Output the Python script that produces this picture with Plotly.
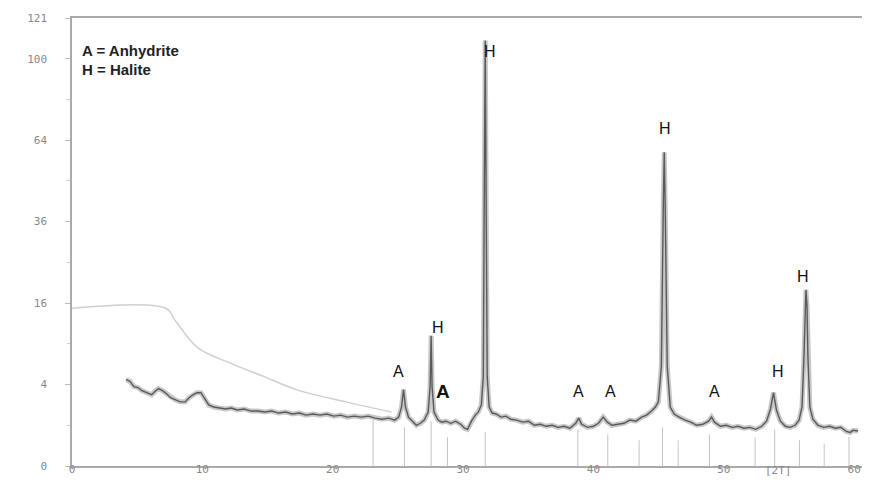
import numpy as np
import plotly.graph_objects as go

# ---- scan data (2-theta in degrees, intensity in counts) ----
two_theta = [4.15, 4.45, 4.75, 5.06, 5.36, 5.74, 6.11, 6.42, 6.64, 6.94, 7.25, 7.55, 7.92, 8.30, 8.68,
             8.98, 9.28, 9.58, 9.89, 10.19, 10.49, 10.87, 11.32, 11.77, 12.23, 12.68, 13.21, 13.74,
             14.26, 14.79, 15.32, 15.85, 16.38, 16.91, 17.43, 17.96, 18.49, 19.02, 19.55, 20.08,
             20.60, 21.13, 21.66, 22.19, 22.72, 23.25, 23.77, 24.30, 24.75, 25.06, 25.28, 25.43,
             25.58, 25.81, 26.11, 26.42, 26.72, 27.02, 27.32, 27.47, 27.55, 27.62, 27.77, 28.08,
             28.38, 28.68, 29.06, 29.43, 29.81, 30.11, 30.34, 30.64, 30.94, 31.17, 31.40, 31.55,
             31.62, 31.70, 31.77, 31.85, 32.00, 32.23, 32.53, 32.91, 33.28, 33.66, 34.11, 34.57,
             35.02, 35.47, 35.92, 36.38, 36.83, 37.28, 37.74, 38.19, 38.64, 38.87, 39.09, 39.55,
             40.00, 40.38, 40.75, 41.06, 41.43, 41.89, 42.34, 42.79, 43.25, 43.70, 44.08, 44.45,
             44.75, 44.98, 45.21, 45.36, 45.43, 45.50, 45.66, 45.89, 46.19, 46.57, 47.02, 47.47,
             47.92, 48.38, 48.83, 49.06, 49.28, 49.74, 50.19, 50.64, 51.09, 51.55, 52.00, 52.45,
             52.91, 53.28, 53.58, 53.81, 54.04, 54.34, 54.72, 55.09, 55.47, 55.77, 56.00, 56.15,
             56.23, 56.30, 56.38, 56.45, 56.60, 56.83, 57.21, 57.66, 58.11, 58.57, 58.98, 59.40,
             59.70, 59.92, 60.30]
counts = [4.52, 4.31, 3.80, 3.71, 3.42, 3.24, 3.06, 3.42, 3.61, 3.42, 3.15, 2.81, 2.64, 2.48, 2.48,
          2.81, 3.06, 3.24, 3.24, 2.72, 2.25, 2.10, 2.03, 1.96, 2.03, 1.89, 1.96, 1.82,
          1.82, 1.76, 1.82, 1.69, 1.76, 1.63, 1.69, 1.56, 1.63, 1.56, 1.63, 1.50,
          1.56, 1.44, 1.50, 1.44, 1.50, 1.38, 1.32, 1.38, 1.27, 1.44, 2.10, 3.52,
          2.10, 1.44, 1.21, 1.00, 1.10, 1.27, 1.76, 3.80, 10.24, 3.80, 1.76, 1.27,
          1.16, 1.21, 1.10, 1.21, 1.05, 0.86, 0.81, 1.21, 1.56, 1.76, 2.25, 4.84,
          41.6, 109.2, 41.6, 4.84, 2.10, 1.69, 1.63, 1.44, 1.50, 1.32, 1.27, 1.16,
          1.21, 1.00, 1.05, 0.95, 1.00, 0.90, 0.95, 0.86, 1.10, 1.38, 1.05, 0.90,
          0.95, 1.10, 1.44, 1.16, 1.00, 1.05, 1.10, 1.27, 1.21, 1.44, 1.56, 1.82,
          2.10, 2.48, 6.00, 41.6, 59.3, 41.6, 6.00, 2.10, 1.63, 1.44, 1.27, 1.16,
          1.00, 1.05, 1.21, 1.44, 1.16, 0.95, 1.00, 0.90, 0.95, 0.86, 0.90, 0.81,
          0.95, 1.21, 1.96, 3.24, 1.89, 1.21, 0.95, 0.90, 1.00, 1.27, 2.10, 7.29,
          15.6, 18.7, 15.6, 7.29, 2.10, 1.32, 1.00, 0.90, 0.95, 0.86, 0.90, 0.72,
          0.68, 0.77, 0.74]

# fitted background curve (light grey)
bg_theta = [0.0, 7.2, 7.9, 9.66, 12.15, 14.7, 17.2, 21.0, 24.5]
bg_counts = [15.0, 15.0, 12.8, 8.41, 6.38, 4.84, 3.52, 2.48, 1.76]

# reference stick positions (light grey marks at the bottom)
stick_theta = [23.1, 25.5, 27.55, 28.8, 31.7, 38.8, 41.1, 43.5, 45.3, 46.5, 48.9, 52.4, 53.9,
               55.8, 57.7, 59.6]
stick_counts = [1.3, 0.9, 1.2, 0.5, 0.7, 0.8, 0.6, 0.4, 0.9, 0.4, 0.6, 0.5, 0.8, 0.4, 0.3, 0.5]

# axis ticks (square-root intensity scale)
y_tick_counts = [0, 4, 16, 36, 64, 100, 121]
y_tick_text = ["0", "4", "16", "36", "64", "100", "121"]
y_minor_counts = [1, 9, 25, 49, 81]
x_ticks = [0, 10, 20, 30, 40, 50, 60]

# peak labels: (text, 2theta, counts-level, size, bold)
peak_labels = [("H", 32.08, 103.5, 16, False), ("H", 45.51, 68.5, 16, False),
               ("H", 28.08, 11.6, 16, False), ("A", 25.06, 5.4, 16, False),
               ("A", 28.45, 3.33, 19, True), ("A", 38.87, 3.33, 16, False),
               ("A", 41.28, 3.33, 16, False), ("A", 49.28, 3.33, 16, False),
               ("H", 54.19, 5.4, 16, False), ("H", 56.08, 21.6, 16, False)]
legend_lines = ["A = Anhydrite", "H = Halite"]
legend_levels = [104.0, 94.8]

sq = np.sqrt

fig = go.Figure()

# sticks
for t, c in zip(stick_theta, stick_counts):
    fig.add_trace(go.Scatter(x=[t, t], y=[0, sq(c)], mode="lines",
                             line=dict(color="#c4c4c4", width=1), hoverinfo="skip",
                             showlegend=False))

fig.add_trace(go.Scatter(x=bg_theta, y=sq(np.array(bg_counts)), mode="lines",
                         line=dict(color="#cfcfcf", width=1.5, shape="spline"),
                         showlegend=False))

# scan: wide light halo, then darker core
fig.add_trace(go.Scatter(x=two_theta, y=sq(np.array(counts)), mode="lines",
                         line=dict(color="#c8c8c8", width=5), showlegend=False))
fig.add_trace(go.Scatter(x=two_theta, y=sq(np.array(counts)), mode="lines",
                         line=dict(color="#5a5a5a", width=1.4), showlegend=False))

annotations = []
for text, t, c, size, bold in peak_labels:
    annotations.append(dict(x=t, y=sq(c), xref="x", yref="y", text=f"<b>{text}</b>" if bold else text,
                            showarrow=False, font=dict(family="Liberation Sans, Arial", size=size,
                                                       color="#111")))
for line, lvl in zip(legend_lines, legend_levels):
    annotations.append(dict(x=0.6, y=sq(lvl), xref="x", yref="y", text=f"<b>{line}</b>",
                            xanchor="left", showarrow=False,
                            font=dict(family="Liberation Sans, Arial", size=15, color="#222")))
annotations.append(dict(x=54.2, y=-0.01, xref="x", yref="paper", text="[2T]", yanchor="middle",
                        showarrow=False, font=dict(family="DejaVu Sans Mono", size=11, color="#888")))

# the page body adds an 8px offset, so the figure is sized/margined to fit inside the window
fig.update_layout(
    width=854, height=471,
    margin=dict(l=64, r=0, t=10, b=13, autoexpand=False),
    paper_bgcolor="white", plot_bgcolor="white",
    annotations=annotations,
    showlegend=False,
    xaxis=dict(range=[0, 60.6], tickvals=x_ticks, ticktext=[str(v) for v in x_ticks],
               showgrid=False, zeroline=False, showline=True, mirror=True,
               linecolor="#aaaaaa", linewidth=1.5, ticks="", automargin=False,
               ticklabelstandoff=-8, ticklabeloverflow="allow",
               tickfont=dict(family="DejaVu Sans Mono", size=11, color="#888")),
    yaxis=dict(range=[0, 11], tickvals=[sq(v) for v in y_tick_counts], ticktext=y_tick_text,
               showgrid=False, zeroline=False, showline=True, mirror=True, automargin=False,
               linecolor="#aaaaaa", linewidth=1.5, ticks="outside", ticklen=5, tickcolor="#bbb",
               ticklabelstandoff=16,
               minor=dict(tickvals=[sq(v) for v in y_minor_counts], ticks="outside", ticklen=3,
                          tickcolor="#ccc"),
               tickfont=dict(family="DejaVu Sans Mono", size=11, color="#888")),
)

fig.write_html("out.html")
